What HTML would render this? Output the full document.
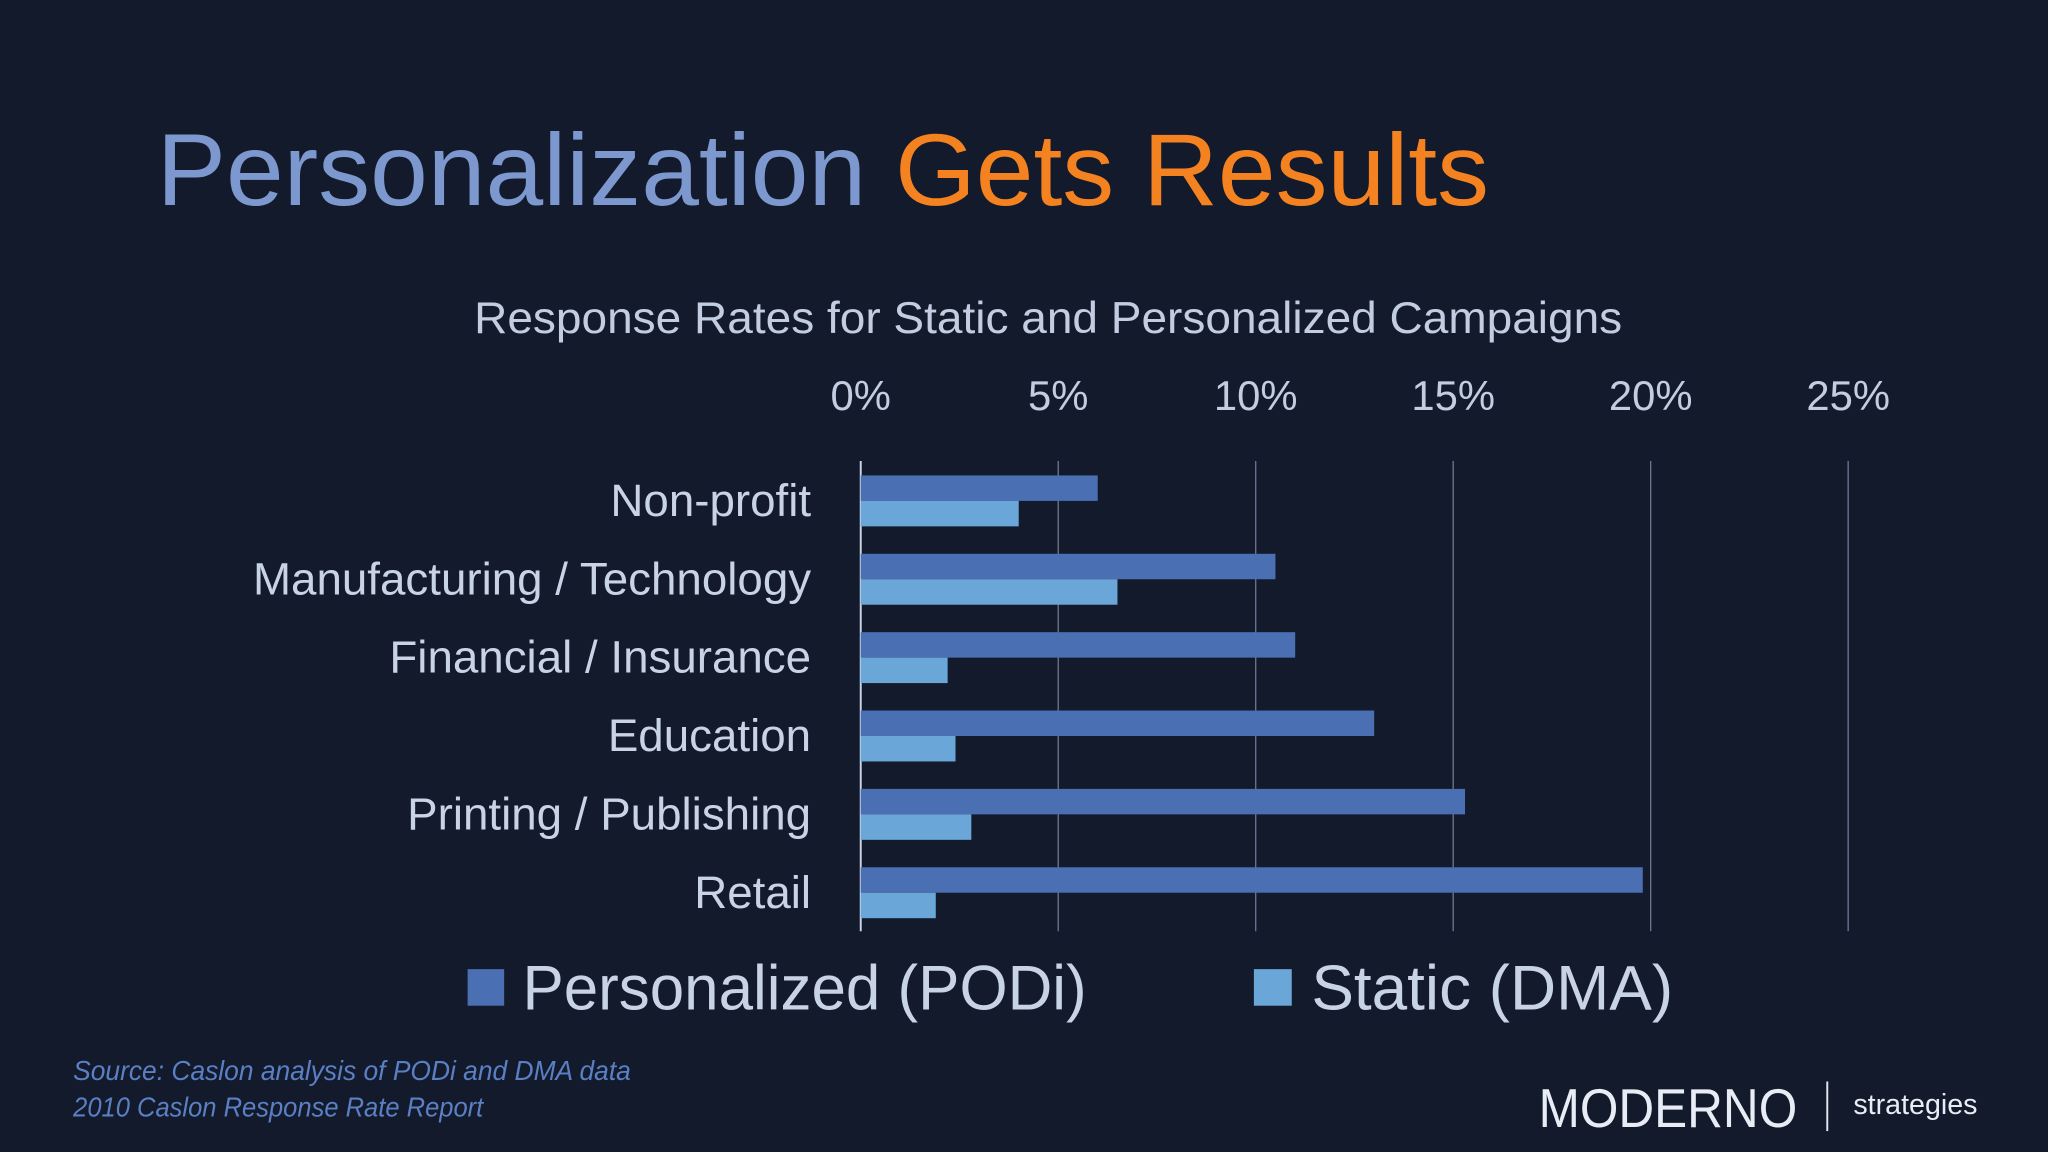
<!DOCTYPE html>
<html><head><meta charset="utf-8"><style>
html,body{margin:0;padding:0;background:#121a2b;}
svg{display:block;width:2048px;height:1152px;}
text{font-family:"Liberation Sans",sans-serif;}
</style></head><body>
<svg id="chart" viewBox="0 0 1568 882" xmlns="http://www.w3.org/2000/svg">
<rect width="1568" height="882" fill="#121a2b"/>
<text x="120" y="157" font-size="78" textLength="1020" lengthAdjust="spacingAndGlyphs"><tspan fill="#7d98cf">Personalization </tspan><tspan fill="#f58220">Gets Results</tspan></text>
<text x="363" y="255" font-size="34" fill="#c3cde2" textLength="879" lengthAdjust="spacingAndGlyphs">Response Rates for Static and Personalized Campaigns</text>
<g id="grid"></g>
<g id="bars"></g>
<g id="labels"></g>
<rect x="358" y="742" width="28" height="28" fill="#4a6fb3"/>
<text x="400" y="773" font-size="48" fill="#c9d3e6" textLength="432" lengthAdjust="spacingAndGlyphs">Personalized (PODi)</text>
<rect x="960" y="742" width="29" height="28" fill="#6aa6d8"/>
<text x="1004" y="773" font-size="48" fill="#c9d3e6" textLength="277" lengthAdjust="spacingAndGlyphs">Static (DMA)</text>
<text x="56" y="827" font-size="21" font-style="italic" fill="#5b7fc4" textLength="427" lengthAdjust="spacingAndGlyphs">Source: Caslon analysis of PODi and DMA data</text>
<text x="56" y="855" font-size="21" font-style="italic" fill="#5b7fc4" textLength="314" lengthAdjust="spacingAndGlyphs">2010 Caslon Response Rate Report</text>
<text x="1178" y="863" font-size="42" fill="#e8ecf4" textLength="198" lengthAdjust="spacingAndGlyphs">MODERNO</text>
<line x1="1399" y1="828" x2="1399" y2="866" stroke="#dfe4ee" stroke-width="1.5"/>
<text x="1419" y="853" font-size="22" fill="#e8ecf4" textLength="95" lengthAdjust="spacingAndGlyphs">strategies</text>
</svg>
<script>
const categories=["Non-profit","Manufacturing / Technology","Financial / Insurance","Education","Printing / Publishing","Retail"];
const personalized=[6.0,10.5,11.0,13.0,15.3,19.8];
const staticRates=[4.0,6.5,2.2,2.4,2.8,1.9];
const ticks=[0,5,10,15,20,25];
const tickLabels=["0%","5%","10%","15%","20%","25%"];
const NS="http://www.w3.org/2000/svg";
const x0=659,pxPer=30.24,plotTop=353,rowH=60;
function xs(v){return x0+v*pxPer;}
function mk(tag,attrs,parent){const e=document.createElementNS(NS,tag);for(const k in attrs)e.setAttribute(k,attrs[k]);parent.appendChild(e);return e;}
const grid=document.getElementById('grid'),bars=document.getElementById('bars'),labels=document.getElementById('labels');
ticks.forEach((t,i)=>{
  const l=mk('line',{x1:xs(t),x2:xs(t),y1:plotTop,y2:plotTop+rowH*categories.length,stroke:i===0?'#c9d3e6':'#6c7892','stroke-width':i===0?1.5:1},grid);
  
  
  const tx=mk('text',{x:xs(t),y:314,'font-size':32,fill:'#c3cde2','text-anchor':'middle'},labels);
  tx.textContent=tickLabels[i];
  
  
});
categories.forEach((c,i)=>{
  const y=plotTop+i*rowH;
  const b1=mk('rect',{x:xs(0),y:y+11,width:xs(personalized[i])-xs(0),height:19.5,fill:'#4a6fb3'},bars);
  
  
  const b2=mk('rect',{x:xs(0),y:y+30.5,width:xs(staticRates[i])-xs(0),height:19.5,fill:'#6aa6d8'},bars);
  
  
  const tx=mk('text',{x:621,y:y+42,'font-size':35,fill:'#c9d3e6','text-anchor':'end'},labels);
  tx.textContent=c;
  
  
});
</script>
</body></html>
